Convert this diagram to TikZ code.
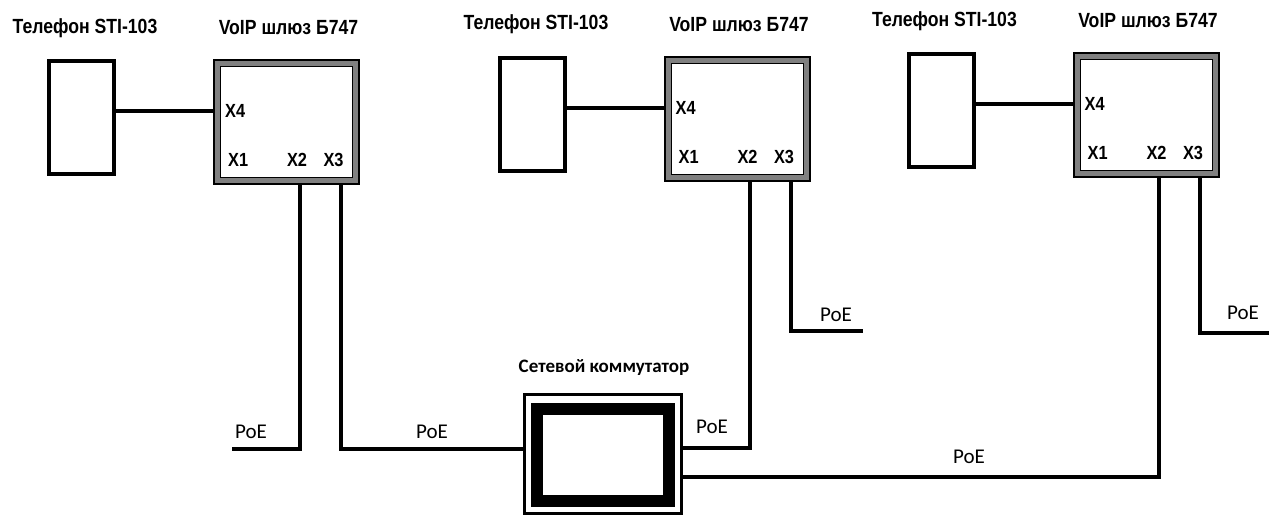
\documentclass[tikz,border=0pt]{standalone}
\usepackage{fontspec}
\setmainfont{Liberation Sans}
\newfontfamily\poefont{Carlito}
\usetikzlibrary{calc,positioning}
\tikzset{
phone/.style={draw,line width=4pt,minimum width=65pt,minimum height=113pt,inner sep=0pt,outer sep=0pt},
gwout/.style={draw,fill=gray,line width=2pt,minimum width=145pt,minimum height=124pt,inner sep=0pt,outer sep=0pt},
gwin/.style={draw,fill=white,line width=1pt,minimum width=132pt,minimum height=111pt,inner sep=0pt},
title/.style={font=\bfseries\fontsize{20.5}{24}\selectfont,inner sep=0pt,xscale=0.86,transform shape},
port/.style={font=\bfseries\fontsize{19}{22}\selectfont,inner sep=0pt,xscale=0.86,transform shape},
poe/.style={font=\poefont\fontsize{21}{24}\selectfont,inner sep=0pt},
wire/.style={line width=4pt}
}
\begin{document}
\begin{tikzpicture}[x=1pt,y=-1pt]
\useasboundingbox (0,0) rectangle (1269,517);
% phone + gateway, three times
\foreach \n/\phx/\gwx/\gwy in {1/81.5/286.5/122,2/532.5/737/118.5,3/941/1146/115}{
\node[phone] (ph\n) at (\phx,\gwy-4.5) {};
\node[gwout] (gw\n) at (\gwx,\gwy) {};
\node[gwin] (gwi\n) at (gw\n) {};
\node[title] (tel\n) at (\phx+3.5,\gwy-94) {Телефон STI-103};
\node[title] (name\n) at (\gwx+2,\gwy-94) {VoIP шлюз Б747};
\node[port,anchor=west] (x4-\n) at ($(gw\n.west)+(11,-11)$) {X4};
\node[port,anchor=west] (x1-\n) at ($(gw\n.west)+(14,38)$) {X1};
\node[port] (x2-\n) at ($(gw\n.center)+(10.5,38)$) {X2};
\node[port] (x3-\n) at ($(gw\n.center)+(47,38)$) {X3};
\coordinate (p2-\n) at ($(gw\n.south)+(13,0)$);
\coordinate (p3-\n) at ($(gw\n.south)+(54,0)$);
\draw[wire] (ph\n.east |- x4-\n) -- (gw\n.west |- x4-\n);
}
% switch
\node[draw,line width=3pt,minimum width=157pt,minimum height=119pt,outer sep=0pt] (sw) at (603,454) {};
\node[draw,line width=12pt,minimum width=131.5pt,minimum height=92pt] (swi) at (603,455) {};
\node[poe,font=\poefont\bfseries\fontsize{19}{22}\selectfont] (swname) at (604,368) {Сетевой коммутатор};
\coordinate (sw-in) at ($(sw.west)+(0,-5)$);
\coordinate (sw-a) at ($(sw.east)+(0,-6)$);
\coordinate (sw-b) at ($(sw.east)+(0,23)$);
\coordinate (end1) at (232,449);
\coordinate (end2) at (863,331);
\coordinate (end3) at (1269,333);
\draw[wire] (p2-1) |- (end1);
\draw[wire] (p3-1) |- (sw-in);
\draw[wire] (p2-2) |- (sw-a);
\draw[wire] (p3-2) |- (end2);
\draw[wire] (p2-3) |- (sw-b);
\draw[wire] (p3-3) |- (end3);
\node[poe] (poe1) at (251,432) {PoE};
\node[poe] (poe2) at (432,432) {PoE};
\node[poe] (poe3) at (712,427) {PoE};
\node[poe] (poe4) at (969,457) {PoE};
\node[poe] (poe5) at (836,315) {PoE};
\node[poe] (poe6) at (1243,313) {PoE};
\end{tikzpicture}
\end{document}
